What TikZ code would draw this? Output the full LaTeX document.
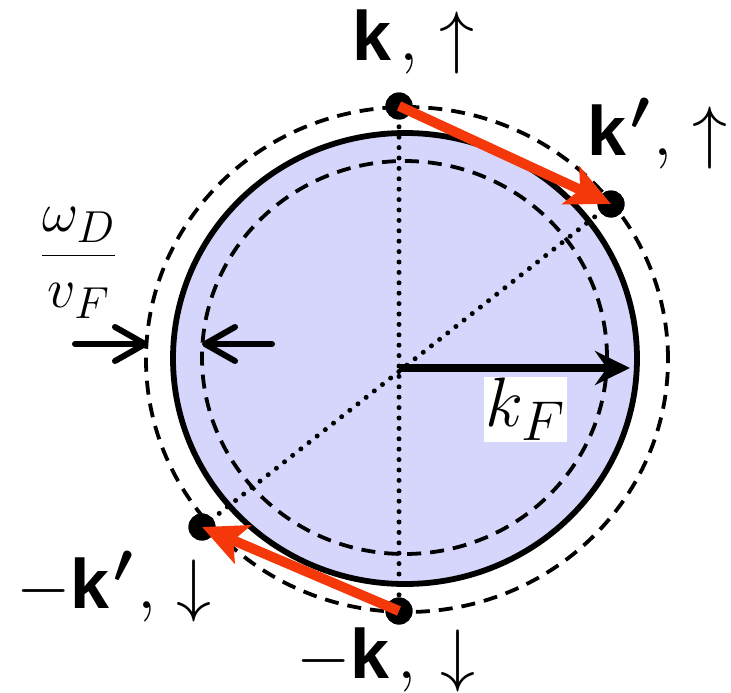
\RequirePackage{fix-cm}
\documentclass[tikz,border=0pt]{standalone}
\usepackage{amsmath}
\usepackage{bm}
\usepackage{fontspec}
\newfontfamily\hv{Liberation Sans}
\usetikzlibrary{arrows.meta}
\DeclareMathSizes{70}{70}{56}{42}
\DeclareMathSizes{56}{56}{44.8}{33.6}
\definecolor{fermired}{RGB}{245,56,10}
\definecolor{fermifill}{RGB}{214,214,252}
\begin{document}
\begin{tikzpicture}[x=1pt,y=-1pt,
  lab/.style={inner sep=0pt, font=\fontsize{70}{80}\selectfont},
  dotnode/.style={circle, fill=black, inner sep=0pt, minimum size=27pt},
  dashline/.style={line width=3.8pt, dash pattern=on 14pt off 9pt},
  dotline/.style={line width=5pt, line cap=round, dash pattern=on 0pt off 10.4pt},
  redarrow/.style={draw=fermired, line width=10pt, -{Stealth[length=44pt,width=41pt,inset=10pt]}},
  gaparrow/.style={line width=6pt, line cap=round, -{Straight Barb[length=30pt,width=34pt,round]}}
]
\useasboundingbox (0,0) rectangle (731,693);
% circles
\draw[dashline] (407,359.5) ellipse [x radius=261pt, y radius=252.5pt];
\draw[line width=5.8pt, fill=fermifill] (405,358.5) ellipse [x radius=232pt, y radius=225.5pt];
\draw[dashline] (404.5,357.5) ellipse [x radius=202.5pt, y radius=196.5pt];
% points
\coordinate (o) at (399,368);
\coordinate (kfe) at (630,368);
\node[dotnode] (k) at (399,106) {};
\node[dotnode] (kp) at (611,204) {};
\node[dotnode] (mkp) at (202,527) {};
\node[dotnode] (mk) at (399,611) {};
% dotted diameters
\draw[dotline] (k.center) -- (mk.center);
\draw[dotline] (kp.center) -- (mkp.center);
% k_F
\draw[line width=7.5pt, -{Stealth[length=35pt,width=34pt,inset=12pt]}] (o) -- (kfe);
\node[fill=white, inner sep=1.5pt, font=\fontsize{70}{80}\selectfont] (kf) at (525.5,409.5) {$k_F$};
% redraw dots on top of dotted lines
\node[dotnode] at (k.center) {};
\node[dotnode] at (kp.center) {};
\node[dotnode] at (mkp.center) {};
\node[dotnode] at (mk.center) {};
% scattering arrows
\draw[redarrow] (k.center) -- (kp.center);
\draw[redarrow] (mk.center) -- (mkp.center);
% labels
\node[lab, anchor=base west] (lk) at (352,60) {{\hv\bfseries k}\kern8pt$,$\kern21pt$\uparrow$};
\node[lab, anchor=base west] (lkp) at (587,155) {{\hv\bfseries k}\kern4pt${}^{\boldsymbol{\prime}}$\kern4pt$,$\kern20pt$\uparrow$};
\node[lab, anchor=base west] (lmkp) at (16,608) {$-${\hv\bfseries k}\kern4pt${}^{\boldsymbol{\prime}}$\kern4pt$,$\kern20pt$\downarrow$};
\node[lab, anchor=base west] (lmk) at (296,678) {$-${\hv\bfseries k}\kern8pt$,$\kern24pt$\downarrow$};
% shell width
\node[inner sep=0pt, anchor=base, font=\fontsize{56}{64}\selectfont] (frac) at (78.5,269) {$\dfrac{\omega_D}{v_F}$};
\coordinate (a1s) at (75,344);
\coordinate (a1e) at (148,344);
\coordinate (a2s) at (272,344);
\coordinate (a2e) at (202,344);
\draw[gaparrow] (a1s) -- (a1e);
\draw[gaparrow] (a2s) -- (a2e);
\end{tikzpicture}
\end{document}
